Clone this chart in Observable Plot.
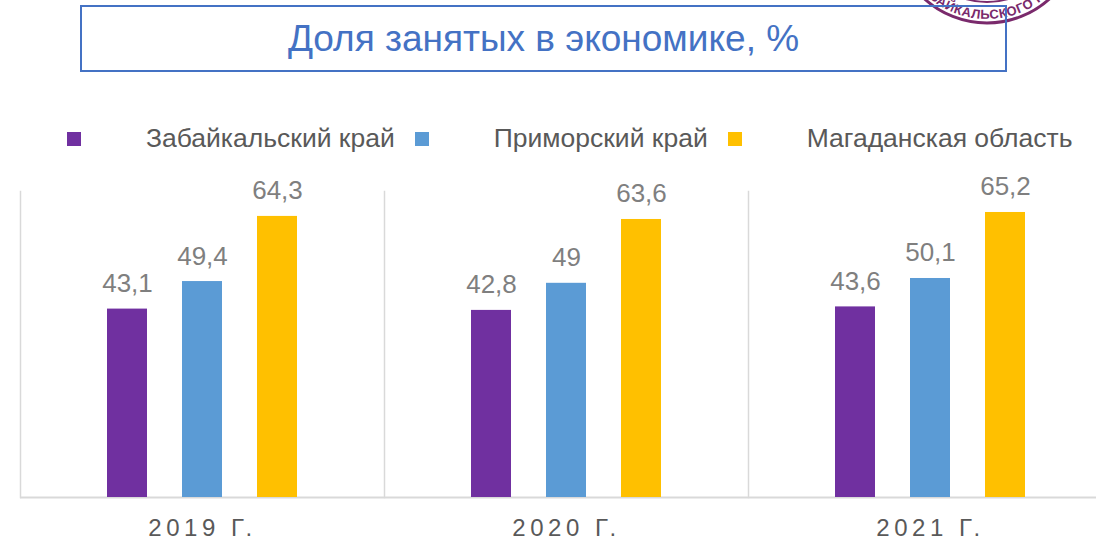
<!DOCTYPE html>
<html>
<head>
<meta charset="utf-8">
<script src="https://cdn.jsdelivr.net/npm/d3@7"></script>
<script src="https://cdn.jsdelivr.net/npm/@observablehq/plot@0.6"></script>
<style>
  html, body { margin: 0; padding: 0; background: #fff; overflow: hidden; }
  body { width: 1096px; height: 541px; position: relative; font-family: "Liberation Sans", Arial, sans-serif; }
  #stamp { position: absolute; left: 0; top: 0; }
  #title { position: absolute; left: 80px; top: 5px; width: 927px; height: 67px; box-sizing: border-box;
           border: 2px solid #4472C4; color: #4472C4; font-size: 37px; display: flex; align-items: center; justify-content: center; padding-bottom: 0px; }
  #legend { position: absolute; left: 67px; top: 123px; display: flex; align-items: center; font-size: 26.5px; color: #595959; white-space: nowrap; }
  #legend .sw { width: 14px; height: 14px; margin-right: 65px; }
  #legend .lb { margin-right: 20px; }
  #chart { position: absolute; left: 0; top: 150px; }
  #chart g[aria-label="fx-axis tick label"] text { letter-spacing: 4.5px; }
</style>
</head>
<body>
<svg id="stamp" width="1096" height="80">
  <defs>
    <path id="arcT" d="M 897,-71 A 90 90 0 0 0 1077,-71" fill="none"/>
  </defs>
  <circle cx="987" cy="-70" r="93" fill="none" stroke="#7a2a6c" stroke-width="3"/>
  <circle cx="987" cy="-70" r="72" fill="none" stroke="#7a2a6c" stroke-width="2"/>
  <text font-size="13" font-weight="bold" fill="#7a2a6c" font-family="Liberation Sans, Arial, sans-serif" letter-spacing="0.5">
    <textPath href="#arcT" startOffset="50%" text-anchor="middle">ЗАБАЙКАЛЬСКОГО ГОС</textPath>
  </text>
</svg>
<div id="title">Доля занятых в экономике, %</div>
<div id="legend"></div>
<div id="chart"></div>
<script>
const years = ["2019 Г.", "2020 Г.", "2021 Г."];
const regions = ["Забайкальский край", "Приморский край", "Магаданская область"];
const zabaikalsky = [43.1, 42.8, 43.6];
const primorsky = [49.4, 49.0, 50.1];
const magadan = [64.3, 63.6, 65.2];
const colors = ["#7030A0", "#5B9BD5", "#FFC000"];

const series = [zabaikalsky, primorsky, magadan];
const data = [];
years.forEach((y, i) => regions.forEach((r, j) => data.push({year: y, region: r, value: series[j][i]})));

const fmt = v => String(v).replace(".", ",");

// legend
const legend = document.getElementById("legend");
regions.forEach((r, j) => {
  const sw = document.createElement("span"); sw.className = "sw"; sw.style.background = colors[j];
  const lb = document.createElement("span"); lb.className = "lb"; lb.textContent = r;
  legend.appendChild(sw); legend.appendChild(lb);
});

const chart = Plot.plot({
  width: 1096,
  height: 391,
  marginTop: 41,
  marginBottom: 44,
  marginLeft: 20,
  marginRight: -16,
  style: {fontFamily: "Liberation Sans, Arial, sans-serif", color: "#595959", background: "transparent"},
  fx: {domain: years, padding: 0, label: null},
  x: {domain: regions, paddingInner: 0.467, paddingOuter: 1.16, axis: null},
  y: {domain: [0, 70], axis: null},
  color: {domain: regions, range: colors},
  marks: [
    Plot.frame({anchor: "left", stroke: "#d9d9d9", strokeWidth: 1.5}),
    Plot.ruleY([0], {stroke: "#d9d9d9", strokeWidth: 2}),
    Plot.barY(data, {fx: "year", x: "region", y: "value", fill: "region"}),
    Plot.text(data, {fx: "year", x: "region", y: "value", text: d => fmt(d.value), dy: -17, lineAnchor: "bottom", fontSize: 26, fill: "#7f7f7f"}),
    Plot.axisFx({anchor: "bottom", tickSize: 0, tickPadding: 21, fontSize: 24, label: null})
  ]
});
document.getElementById("chart").appendChild(chart);
</script>
</body>
</html>
